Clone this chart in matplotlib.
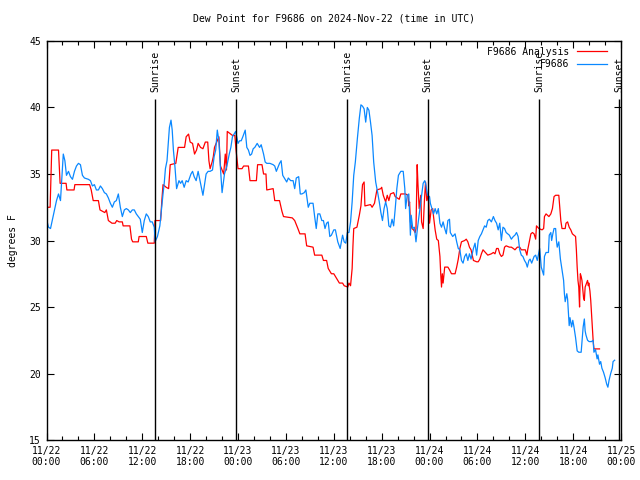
import numpy as np
import pandas as pd
import matplotlib
matplotlib.use("Agg")
import matplotlib.pyplot as plt
import matplotlib.dates as mdates

start = pd.Timestamp("2024-11-22 00:00")

# station obs (hours after start, deg F)
obs_hours = [
    0.0, 0.25, 0.5, 0.75, 1.0, 1.25, 1.5, 1.75, 2.1, 2.3, 2.5, 2.75, 3.0, 3.25, 3.5, 3.75,
    4.0, 4.25, 4.5, 4.75, 5.0, 5.25, 5.5, 5.75, 6.0, 6.25, 6.5, 6.75, 7.0, 7.25, 7.5, 7.75,
    8.0, 8.25, 8.5, 8.75, 9.0, 9.25, 9.5, 9.75, 10.0, 10.25, 10.5, 10.75, 11.0, 11.25, 11.5,
    11.75, 12.0, 12.25, 12.5, 12.75, 13.0, 13.25, 13.5, 13.6, 13.9, 14.2, 14.4, 14.6, 14.75,
    14.9, 15.1, 15.4, 15.6, 15.75, 15.9, 16.1, 16.3, 16.6, 16.8, 17.0, 17.25, 17.5, 17.75,
    18.1, 18.3, 18.5, 18.75, 19.0, 19.3, 19.6, 20.0, 20.25, 20.5, 20.8, 21.0, 21.2, 21.4,
    21.6, 21.8, 22.0, 22.3, 22.6, 22.9, 23.1, 23.3, 23.7, 24.0, 24.2, 24.4, 24.6, 24.9,
    25.1, 25.3, 25.5, 25.7, 25.9, 26.1, 26.4, 26.7, 26.9, 27.2, 27.4, 27.6, 28.0, 28.4,
    28.6, 28.8, 29.0, 29.2, 29.4, 29.6, 29.9, 30.1, 30.3, 30.6, 30.9, 31.1, 31.3, 31.6,
    31.8, 32.0, 32.3, 32.5, 32.8, 33.0, 33.4, 33.6, 33.8, 34.0, 34.25, 34.5, 34.7, 34.9,
    35.1, 35.3, 35.5, 35.7, 36.0, 36.2, 36.5, 36.8, 37.1, 37.3, 37.5, 37.7, 37.9, 38.1,
    38.3, 38.5, 38.7, 38.96, 39.2, 39.4, 39.6, 39.8, 40.0, 40.2, 40.4, 40.6, 40.8, 41.0,
    41.25, 41.5, 41.7, 41.9, 42.1, 42.3, 42.5, 42.7, 42.9, 43.1, 43.3, 43.5, 43.7, 43.9,
    44.1, 44.4, 44.7, 44.9, 45.0, 45.2, 45.4, 45.6, 45.7, 45.9, 46.1, 46.3, 46.5, 46.8,
    46.9, 47.2, 47.4, 47.5, 47.75, 48.0, 48.1, 48.5, 48.7, 48.9, 49.1, 49.3, 49.5, 49.7,
    49.9, 50.1, 50.3, 50.5, 50.6, 50.9, 51.2, 51.4, 51.6, 51.8, 52.0, 52.2, 52.4, 52.6,
    52.8, 53.0, 53.2, 53.5, 53.7, 53.9, 54.1, 54.3, 54.5, 54.7, 54.9, 55.1, 55.3, 55.5,
    55.75, 56.0, 56.2, 56.4, 56.6, 56.8, 57.0, 57.2, 57.4, 57.6, 57.8, 58.0, 58.25, 58.5,
    58.7, 58.9, 59.1, 59.3, 59.5, 59.7, 59.9, 60.1, 60.25, 60.45, 60.6, 60.8, 61.1, 61.3,
    61.5, 61.7, 61.8, 62.0, 62.3, 62.4, 62.6, 62.9, 63.0, 63.2, 63.3, 63.45, 63.6, 63.8,
    63.9, 64.0, 64.2, 64.4, 64.6, 64.8, 64.9, 65.0, 65.2, 65.3, 65.5, 65.6, 65.8, 65.95,
    66.1, 66.3, 66.5, 66.7, 67.0, 67.1, 67.25, 67.4, 67.5, 67.6, 67.8, 68.0, 68.3, 68.5,
    68.6, 68.8, 69.0, 69.1, 69.3, 69.45, 69.6, 69.8, 70.0, 70.2, 70.35, 70.5, 70.7, 70.9,
    71.0, 71.2,
]
obs_dewpt = [
    31.6, 31.0, 30.9, 31.6, 32.3, 33.0, 33.5, 33.0, 36.5, 36.0, 34.9, 35.2, 34.8, 34.6, 35.2, 35.6,
    35.8, 35.7, 34.9, 34.7, 34.65, 34.6, 34.5, 34.1, 34.2, 33.8, 33.8, 34.1, 33.9, 33.6, 33.5, 33.2,
    32.8, 32.5, 32.9, 33.0, 33.5, 32.5, 31.8, 32.3, 32.4, 32.3, 32.1, 32.3, 32.3, 32.0, 31.8,
    31.6, 30.6, 31.5, 32.0, 31.8, 31.4, 31.4, 31.0, 29.9, 30.3, 31.1, 32.3, 33.5, 34.3,
    35.4, 36.0, 38.5, 39.05, 38.3, 36.8, 35.5, 33.9, 34.5, 34.3, 34.5, 34.0, 34.5, 34.4,
    35.0, 35.2, 34.8, 34.5, 35.2, 34.3, 33.4, 35.0, 35.2, 35.2, 35.3, 36.3, 36.8, 38.3,
    37.5, 35.4, 33.6, 35.0, 35.6, 36.5, 37.0, 37.8, 38.2, 37.3, 37.5, 37.5, 37.8, 38.3,
    37.0, 36.8, 36.4, 36.5, 36.9, 37.0, 37.3, 37.0, 37.2, 36.5, 35.9, 35.8, 35.8, 35.7,
    35.6, 35.2, 35.5, 35.8, 36.0, 34.9, 34.6, 34.4, 34.7, 34.5, 34.5, 33.9, 34.7, 34.8,
    33.5, 33.5, 33.6, 33.8, 32.5, 32.8, 32.8, 31.8, 30.9, 32.0, 32.0, 31.5, 31.5, 30.9,
    31.3, 31.4, 30.3, 30.4, 30.8, 30.8, 29.9, 29.4, 30.4, 29.9, 29.8, 30.6, 30.6, 31.4,
    32.9, 34.9, 35.9, 37.7, 39.2, 40.2, 40.1, 39.9, 38.9, 40.0, 39.8, 38.9, 37.9, 35.9,
    34.4, 33.6, 32.9, 32.1, 31.5, 32.4, 32.9, 32.4, 31.1, 31.0, 31.6, 31.1, 32.4, 33.9,
    34.9, 35.2, 35.2, 33.9, 32.4, 33.4, 33.5, 30.4, 31.9, 30.9, 31.0, 29.9, 31.0, 32.4,
    32.9, 34.3, 34.5, 34.3, 33.4, 33.3, 32.8, 32.0, 32.4, 32.0, 32.4, 31.3, 31.0, 31.4,
    30.9, 30.5, 31.5, 31.6, 30.6, 30.3, 30.5, 29.9, 29.4, 29.3, 28.5, 28.3, 28.8, 29.0,
    28.5, 29.0, 28.6, 29.4, 29.8, 28.9, 30.0, 30.3, 30.5, 30.8, 31.1, 31.0, 31.5, 31.6,
    31.4, 31.8, 31.5, 31.3, 30.8, 31.3, 30.0, 31.0, 30.9, 30.6, 30.5, 30.4, 30.1, 30.3,
    30.4, 30.6, 30.3, 29.3, 28.9, 28.8, 28.5, 28.3, 28.0, 28.5, 28.6, 28.3, 28.8, 28.9,
    28.5, 29.1, 29.4, 28.0, 27.4, 28.8, 29.1, 29.1, 30.4, 30.6, 30.0, 30.5, 30.9, 30.9,
    30.0, 29.5, 29.9, 28.6, 27.8, 27.0, 26.0, 25.4, 26.0, 25.6, 23.6, 24.2, 23.5, 24.0,
    23.5, 22.7, 21.7, 21.6, 21.6, 22.4, 23.5, 24.1, 23.2, 22.9, 22.5, 22.4, 22.4, 22.5,
    21.6, 21.8, 21.1, 21.4, 20.7, 20.9, 20.4, 20.1, 19.7, 19.2, 18.97, 19.5, 20.0, 20.4,
    20.9, 21.0,
]

# analysis (hours after start, deg F)
ana_hours = [
    0.0, 0.45, 0.65, 1.5, 1.7, 2.45, 2.55, 3.45, 3.55, 5.4, 5.6, 5.85, 6.5, 6.7, 7.3, 7.5,
    7.75, 8.2, 8.6, 8.8, 9.1, 9.5, 9.6, 10.45, 10.65, 10.8, 11.5, 11.6, 12.5, 12.7, 13.5,
    13.6, 14.3, 14.45, 14.6, 15.0, 15.3, 15.5, 16.2, 16.5, 17.3, 17.5, 17.8, 18.0, 18.3,
    18.55, 18.8, 19.0, 19.3, 19.6, 19.9, 20.2, 20.35, 20.5, 20.75, 20.9, 21.05, 21.6, 21.8,
    22.0, 22.2, 22.4, 22.55, 22.65, 23.3, 23.6, 23.75, 23.9, 24.0, 24.5, 24.7, 25.3, 25.5,
    26.3, 26.45, 27.0, 27.2, 27.5, 27.6, 28.4, 28.6, 29.2, 29.5, 29.7, 30.8, 31.1, 31.5,
    31.75, 32.4, 32.6, 33.4, 33.6, 34.5, 34.7, 35.1, 35.3, 35.7, 36.0, 36.3, 36.7, 37.1,
    37.3, 37.75, 37.9, 38.1, 38.3, 38.4, 38.5, 38.9, 39.2, 39.4, 39.6, 39.8, 39.9, 40.6,
    40.8, 41.1, 41.4, 41.9, 42.0, 42.2, 42.5, 42.7, 42.9, 43.1, 43.5, 43.7, 44.2, 44.4,
    45.0, 45.3, 45.4, 45.5, 45.6, 45.8, 46.0, 46.2, 46.3, 46.45, 46.55, 46.7, 46.8, 46.9,
    47.0, 47.2, 47.35, 47.5, 47.65, 47.8, 47.9, 48.0, 48.2, 48.4, 48.5, 48.7, 48.9, 49.1,
    49.3, 49.4, 49.5, 49.6, 49.7, 49.9, 50.3, 50.5, 50.75, 51.2, 51.4, 51.6, 51.8, 52.0,
    52.4, 52.6, 52.8, 53.0, 53.2, 53.5, 53.9, 54.1, 54.3, 54.5, 54.7, 55.0, 55.3, 55.75,
    56.0, 56.2, 56.4, 56.6, 56.8, 57.0, 57.2, 57.4, 57.6, 58.0, 58.25, 58.5, 58.7, 59.0,
    59.3, 59.5, 60.0, 60.2, 60.3, 60.5, 60.7, 60.9, 61.1, 61.3, 61.4, 61.7, 62.1, 62.3,
    62.4, 62.6, 62.96, 63.2, 63.4, 63.6, 63.8, 64.2, 64.3, 64.45, 64.6, 65.0, 65.1, 65.3,
    65.5, 65.7, 65.9, 66.3, 66.4, 66.5, 66.6, 66.7, 66.8, 66.85, 66.9, 67.0, 67.1, 67.3,
    67.4, 67.5, 67.8, 67.9, 67.96, 68.1, 68.2, 68.3, 68.4, 68.5, 68.6, 69.3,
]
ana_dewpt = [
    32.5, 32.5, 36.8, 36.8, 34.3, 34.3, 33.8, 33.8, 34.2, 34.2, 33.8, 33.0, 33.0, 32.3, 32.1, 32.3,
    31.5, 31.3, 31.3, 31.5, 31.4, 31.4, 31.1, 31.1, 30.1, 29.9, 29.9, 30.3, 30.3, 29.8, 29.8,
    31.5, 31.5, 33.0, 34.2, 34.0, 33.9, 35.7, 35.8, 37.0, 37.0, 37.8, 38.0, 37.4, 37.3,
    36.5, 36.8, 37.3, 37.0, 36.9, 37.4, 37.4, 36.0, 35.4, 35.9, 36.3, 37.0, 37.8, 35.6,
    35.3, 35.0, 36.5, 35.3, 38.2, 37.9, 37.9, 36.8, 36.0, 35.4, 35.4, 35.6, 35.6, 34.5,
    34.5, 35.7, 35.7, 35.0, 35.0, 33.8, 33.9, 33.0, 33.0, 32.2, 31.8, 31.7, 31.5, 30.9,
    30.5, 30.5, 29.6, 29.5, 28.9, 28.9, 28.5, 28.5, 27.9, 27.5, 27.5, 27.2, 26.8, 26.8,
    26.6, 26.5, 26.8, 26.6, 27.9, 29.6, 30.9, 31.0, 31.9, 32.6, 34.2, 34.4, 32.6, 32.7,
    32.5, 32.8, 33.8, 33.9, 34.0, 33.4, 32.9, 33.4, 33.0, 33.5, 33.6, 33.3, 33.1, 33.5,
    33.5, 33.4, 32.6, 32.9, 31.4, 30.9, 30.8, 30.6, 30.9, 35.7, 34.2, 32.4, 32.9, 33.4,
    31.4, 30.9, 32.9, 34.4, 33.0, 33.4, 32.8, 31.3, 32.3, 32.4, 31.8, 30.8, 30.1, 30.0,
    28.8, 27.5, 26.5, 27.5, 26.8, 28.0, 28.0, 27.8, 27.5, 27.5, 28.0, 28.6, 29.4, 29.9,
    30.0, 30.1, 29.9, 29.5, 29.3, 28.5, 28.4, 28.4, 28.6, 29.0, 29.3, 29.1, 28.9, 29.0,
    29.1, 29.0, 29.4, 29.4, 29.0, 28.8, 28.9, 29.5, 29.6, 29.5, 29.5, 29.4, 29.3, 29.5,
    29.5, 29.3, 29.3, 28.9, 29.3, 29.9, 30.5, 30.6, 30.5, 30.1, 31.1, 30.9, 30.8, 30.9,
    31.8, 32.0, 31.8, 32.0, 32.4, 33.3, 33.4, 33.4, 32.6, 31.5, 30.9, 30.9, 31.3, 31.4,
    31.0, 30.8, 30.5, 30.3, 29.3, 28.0, 27.0, 26.5, 25.0, 26.5, 27.5, 27.3, 27.0, 25.7,
    25.5, 26.5, 27.0, 26.6, 26.8, 26.2, 25.5, 24.5, 23.5, 22.5, 21.85, 21.85,
]

sunrise_hours = [13.63, 37.68, 61.72]
sunset_hours = [23.78, 47.77, 71.75]


def to_time(hours):
    return start + pd.to_timedelta(np.array(hours), unit="h")


plt.rcParams["font.family"] = "DejaVu Sans Mono"
plt.rcParams["font.size"] = 7

fig = plt.figure(figsize=(6.4, 4.8), dpi=100)
ax = fig.add_axes([0.0727, 0.0833, 0.8977, 0.8313])

ax.plot(to_time(ana_hours), ana_dewpt, color="#ff0000", lw=0.9, label="F9686 Analysis")
ax.plot(to_time(obs_hours), obs_dewpt, color="#0a88ff", lw=0.9, label="F9686")

for t in sunrise_hours:
    ax.vlines(to_time([t])[0], 15, 40.63, color="black", lw=1)
    ax.text(to_time([t])[0], 41.15, "Sunrise", rotation=90, ha="center", va="bottom")
for t in sunset_hours:
    ax.vlines(to_time([t])[0], 15, 40.63, color="black", lw=1)
    ax.text(to_time([t])[0], 41.15, "Sunset", rotation=90, ha="center", va="bottom")

ax.set_xlim(start, start + pd.Timedelta(hours=72))
ax.set_ylim(15, 45)
ax.set_yticks(np.arange(15, 46, 5))
ax.xaxis.set_major_locator(mdates.HourLocator(byhour=[0, 6, 12, 18]))
ax.xaxis.set_minor_locator(mdates.HourLocator(byhour=range(0, 24, 2)))
ax.xaxis.set_major_formatter(mdates.DateFormatter("%m/%d\n%H:%M"))
ax.tick_params(which="major", direction="in", length=5, width=0.8, top=True, right=True, pad=4)
ax.tick_params(which="minor", direction="in", length=3, width=0.8, top=True)
for s in ax.spines.values():
    s.set_linewidth(1)

ax.set_ylabel("degrees F", fontsize=7, labelpad=8)
ax.set_title("Dew Point for F9686 on 2024-Nov-22 (time in UTC)", fontsize=7, pad=14)

ax.legend(loc="upper right", bbox_to_anchor=(0.985, 1.0), frameon=False, markerfirst=False,
          fontsize=7, handlelength=3.0, handletextpad=0.8, labelspacing=0.25, borderaxespad=0.2)

fig.savefig("out.png", dpi=100)
